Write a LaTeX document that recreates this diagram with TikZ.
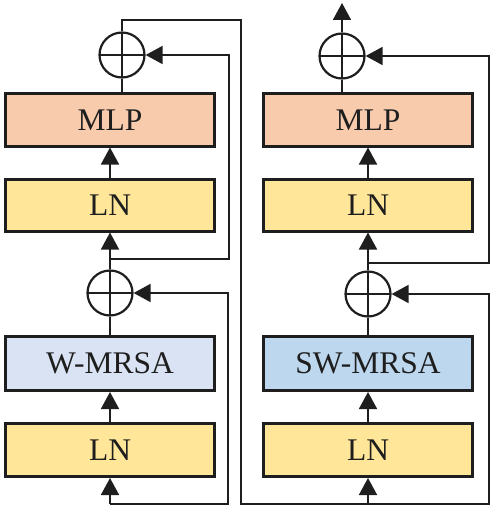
\documentclass[tikz,border=0pt]{standalone}
\usepackage{fontspec}
\setmainfont{Liberation Serif}
\usetikzlibrary{arrows.meta,calc}
\definecolor{mlpc}{HTML}{F8CBAD}
\definecolor{lnc}{HTML}{FFE699}
\definecolor{wmc}{HTML}{DAE3F3}
\definecolor{swc}{HTML}{BDD7EE}
\definecolor{ink}{HTML}{1E1E1E}
\tikzset{
  blk/.style={draw=ink, line width=3pt, rectangle, minimum width=209pt, minimum height=52pt,
    inner sep=0pt, font=\fontsize{31.5}{36}\selectfont, text=ink},
  addop/.style={draw=ink, line width=2.2pt, circle, minimum size=45pt, inner sep=0pt,
    path picture={\draw[ink, line width=1.8pt] (path picture bounding box.north) -- (path picture bounding box.south)
      (path picture bounding box.west) -- (path picture bounding box.east);}},
  conn/.style={draw=ink, line width=1.7pt},
  arr/.style={conn, -{Triangle[length=17pt,width=18pt]}},
}
\begin{document}
\begin{tikzpicture}[x=1pt,y=-1pt]
\useasboundingbox (0,0) rectangle (493,508);
% left column
\node[blk, fill=mlpc] (lmlp) at (110,120) {MLP};
\node[blk, fill=lnc] (lln1) at (110,205) {LN};
\node[blk, fill=wmc, minimum height=54pt] (lwm) at (110,363.5) {W-MRSA};
\node[blk, fill=lnc, minimum height=53pt] (lln0) at (110,450) {LN};
\node[addop] (lc2) at (122,55) {};
\node[addop] (lc1) at (110,293) {};
% right column
\node[blk, fill=mlpc] (rmlp) at (368,120) {MLP};
\node[blk, fill=lnc] (rln1) at (368,205) {LN};
\node[blk, fill=swc, minimum height=54pt] (rsw) at (368,363.5) {SW-MRSA};
\node[blk, fill=lnc, minimum height=53pt] (rln0) at (368,450) {LN};
\node[addop] (rc2) at (342,56) {};
\node[addop] (rc1) at (368,294) {};
% coordinates
\coordinate (lin) at (110,504);
\coordinate (lb1) at (110,259);
\coordinate (rin) at (368,504);
\coordinate (rb1) at (368,263);
\coordinate (rout) at (342,3);
% left connectors
\draw[arr] (lin) -- (lln0.south);
\draw[arr] (lln0.north) -- (lwm.south);
\draw[conn] (lwm.north) -- (lc1.south);
\draw[arr] (lc1.north) -- (lln1.south);
\draw[arr] (lln1.north) -- (lmlp.south);
\draw[conn] (lc2.south |- lmlp.north) -- (lc2.south);
\draw[arr] (lin) -- (228,504) -- (228,293) -- (lc1.east);
\draw[arr] (lb1) -- (229,259) -- (229,55) -- (lc2.east);
\draw[arr] (lc2.north) -- (122,20) -- (241,20) -- (241,504) -- (rin) -- (rln0.south);
% right connectors
\draw[arr] (rln0.north) -- (rsw.south);
\draw[conn] (rsw.north) -- (rc1.south);
\draw[arr] (rc1.north) -- (rln1.south);
\draw[arr] (rln1.north) -- (rmlp.south);
\draw[conn] (rc2.south |- rmlp.north) -- (rc2.south);
\draw[arr] (rin) -- (489,504) -- (489,294) -- (rc1.east);
\draw[arr] (rb1) -- (489,263) -- (489,56) -- (rc2.east);
\draw[arr] (rc2.north) -- (rout);
\end{tikzpicture}
\end{document}
